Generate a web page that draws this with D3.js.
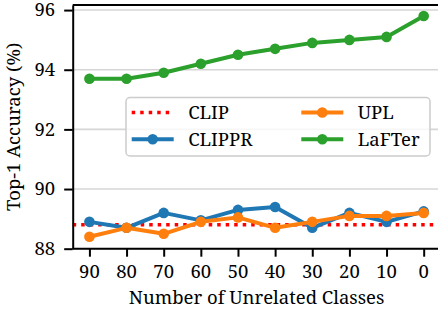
<!DOCTYPE html>
<html>
<head>
<meta charset="utf-8">
<script src="https://cdn.jsdelivr.net/npm/d3@7"></script>
</head>
<body style="margin:0;background:#fff">
<div id="c"></div>
<script>
// data
const classes = [90, 80, 70, 60, 50, 40, 30, 20, 10, 0];
const clip = 88.8;
const clippr = [88.9, 88.7, 89.2, 88.95, 89.3, 89.4, 88.7, 89.2, 88.9, 89.25];
const upl = [88.4, 88.7, 88.5, 88.9, 89.05, 88.7, 88.9, 89.1, 89.1, 89.2];
const lafter = [93.7, 93.7, 93.9, 94.2, 94.5, 94.7, 94.9, 95.0, 95.1, 95.8];
const yTicks = [88, 90, 92, 94, 96];

const width = 438, height = 309;
const margin = { left: 72.7, top: 5, bottom: 60.3 };
const plotRight = 440.4; // figure is cropped, right spine lies just off canvas
const font = "Noto Serif";
const fontSize = 18.5;

const svg = d3.select("#c").append("svg").attr("width", width).attr("height", height);

// x: reversed linear scale with matplotlib style 5% padding
const x = d3.scaleLinear().domain([94.5, -4.5]).range([margin.left, plotRight]);
const y = d3.scaleLinear().domain([88, 96.17]).range([height - margin.bottom, margin.top]);

// grid
svg.append("g")
    .selectAll("line")
    .data(yTicks)
    .enter()
    .append("line")
    .attr("x1", margin.left)
    .attr("x2", plotRight)
    .attr("y1", d => y(d))
    .attr("y2", d => y(d))
    .attr("stroke", "#d6d6d6")
    .attr("stroke-width", 1.6);

const colors = { CLIP: "#ff0000", CLIPPR: "#1f77b4", UPL: "#ff7f0e", LaFTer: "#2ca02c" };

svg.append("line")
    .attr("x1", margin.left)
    .attr("x2", plotRight)
    .attr("y1", y(clip))
    .attr("y2", y(clip))
    .attr("stroke", colors.CLIP)
    .attr("stroke-width", 3.5)
    .attr("stroke-dasharray", "3.5,5");

const line = d3.line()
    .x((d, i) => x(classes[i]))
    .y(d => y(d));

const series = [
    { name: "CLIPPR", values: clippr },
    { name: "UPL", values: upl },
    { name: "LaFTer", values: lafter }
];

series.forEach(function (s) {
    const g = svg.append("g");
    g.append("path")
        .datum(s.values)
        .attr("fill", "none")
        .attr("stroke", colors[s.name])
        .attr("stroke-width", 4)
        .attr("stroke-linejoin", "round")
        .attr("d", line);
    g.selectAll("circle")
        .data(s.values)
        .enter()
        .append("circle")
        .attr("cx", (d, i) => x(classes[i]))
        .attr("cy", d => y(d))
        .attr("r", 5.3)
        .attr("fill", colors[s.name]);
});

// top spine
svg.append("line")
    .attr("x1", margin.left).attr("x2", plotRight)
    .attr("y1", margin.top).attr("y2", margin.top)
    .attr("stroke", "#000").attr("stroke-width", 2);

// axes: lines from d3 axis, labels written by hand so the font is set at creation
const xAxis = svg.append("g")
    .attr("transform", `translate(0,${height - margin.bottom})`)
    .call(d3.axisBottom(x).tickValues(classes).tickSize(8).tickFormat("").tickSizeOuter(0));
const yAxis = svg.append("g")
    .attr("transform", `translate(${margin.left},0)`)
    .call(d3.axisLeft(y).tickValues(yTicks).tickSize(8.5).tickFormat("").tickSizeOuter(0));

[xAxis, yAxis].forEach(function (a) {
    a.selectAll("text").remove();
    a.select(".domain").attr("stroke-width", 2).attr("stroke", "#000");
    a.selectAll(".tick line").attr("stroke-width", 2).attr("stroke", "#000");
});
xAxis.select(".domain").attr("d", `M${margin.left},0H${plotRight}`);

function label(sel) {
    return sel.append("text")
        .attr("font-family", font)
        .attr("font-size", fontSize)
        .attr("fill", "#000");
}

classes.forEach(function (c) {
    label(svg)
        .attr("x", x(c))
        .attr("y", height - margin.bottom + 29.5)
        .attr("text-anchor", "middle")
        .text(c);
});

yTicks.forEach(function (t) {
    label(svg)
        .attr("x", margin.left - 17.5)
        .attr("y", y(t) + 6.3)
        .attr("text-anchor", "end")
        .text(t);
});

label(svg)
    .attr("x", (margin.left + plotRight) / 2)
    .attr("y", 304)
    .attr("text-anchor", "middle")
    .text("Number of Unrelated Classes");

label(svg)
    .attr("transform", `translate(20,${(margin.top + height - margin.bottom) / 2}) rotate(-90)`)
    .attr("text-anchor", "middle")
    .text("Top-1 Accuracy (%)");

// legend
const legend = svg.append("g").attr("transform", "translate(126,97.5)");
legend.append("rect")
    .attr("width", 304)
    .attr("height", 58.5)
    .attr("rx", 4)
    .attr("fill", "#fff")
    .attr("fill-opacity", 0.8)
    .attr("stroke", "#cccccc")
    .attr("stroke-width", 1.5);

const legendItems = [
    { name: "CLIP", col: 0, row: 0 },
    { name: "CLIPPR", col: 0, row: 1 },
    { name: "UPL", col: 1, row: 0 },
    { name: "LaFTer", col: 1, row: 1 }
];

legendItems.forEach(function (d) {
    const g = legend.append("g")
        .attr("transform", `translate(${5.7 + d.col * 169.6},${15 + d.row * 26.7})`);
    g.append("line")
        .attr("x1", 0).attr("x2", 42)
        .attr("stroke", colors[d.name])
        .attr("stroke-width", d.name === "CLIP" ? 3.5 : 4)
        .attr("stroke-dasharray", d.name === "CLIP" ? "3.5,5" : null);
    if (d.name !== "CLIP") {
        g.append("circle").attr("cx", 21).attr("r", 5.3).attr("fill", colors[d.name]);
    }
    label(g).attr("x", 56.5).attr("y", 6.5).text(d.name);
});
</script>
</body>
</html>
